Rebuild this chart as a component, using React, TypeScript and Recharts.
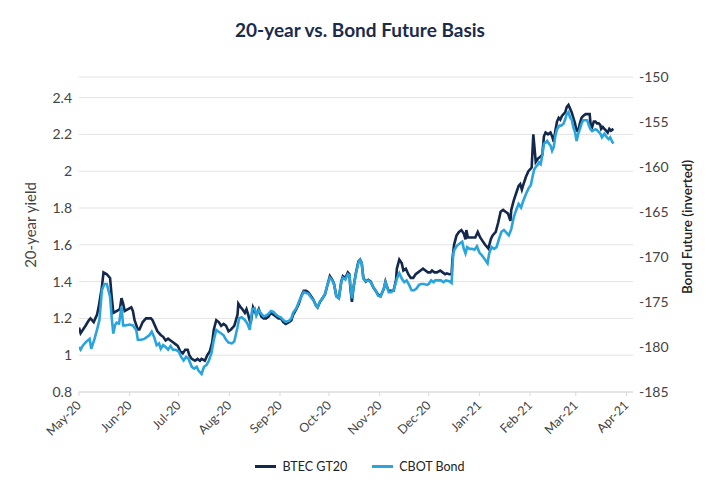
import React from "react";
import { LineChart, Line, XAxis, YAxis, CartesianGrid } from "recharts";

// x = days since 1 May 2020
const monthTicks = [0, 31, 61, 92, 123, 153, 184, 214, 245, 276, 304, 335];
const monthLabels = ["May-20", "Jun-20", "Jul-20", "Aug-20", "Sep-20", "Oct-20", "Nov-20", "Dec-20", "Jan-21", "Feb-21", "Mar-21", "Apr-21"];
const yieldTicks = [0.8, 1, 1.2, 1.4, 1.6, 1.8, 2, 2.2, 2.4];
const basisTicks = [-185, -180, -175, -170, -165, -160, -155, -150];

// BTEC GT20 20-year yield, [day, yield]
const btecPoints: [number, number][] = [
  [0, 1.15], [1, 1.12], [4, 1.16], [6, 1.19], [7, 1.2], [9, 1.18], [10, 1.2], [11, 1.22], [12, 1.26], [14, 1.37],
  [15, 1.45], [17, 1.44], [19, 1.42], [20, 1.32], [21, 1.23], [23, 1.24], [25, 1.25], [26, 1.31], [27, 1.28], [28, 1.24],
  [30, 1.25], [32, 1.26], [33, 1.24], [34, 1.19], [36, 1.14], [37, 1.14], [39, 1.18], [41, 1.2], [44, 1.2], [45, 1.19],
  [47, 1.15], [48, 1.13], [50, 1.11], [51.5, 1.1], [53, 1.08], [54.5, 1.09], [56, 1.08], [57.5, 1.07], [59, 1.06], [60.5, 1.05],
  [62, 1.02], [63.5, 1.01], [65, 1.03], [66.5, 1.03], [67.5, 1.0], [69, 0.98], [71, 0.97], [72.5, 0.98], [74, 0.97], [75, 0.98],
  [77, 0.97], [78.5, 1.0], [80, 1.02], [81.5, 1.07], [82.5, 1.14], [84, 1.19], [85.5, 1.18], [87, 1.16], [88.5, 1.17], [90, 1.16],
  [91.5, 1.13], [93, 1.14], [95, 1.16], [97, 1.22], [97.5, 1.28], [99, 1.26], [100, 1.25], [101.5, 1.23], [102.5, 1.25], [103.5, 1.22],
  [105, 1.17], [106.5, 1.26], [108.5, 1.22], [110, 1.25], [111.5, 1.21], [113, 1.2], [114.5, 1.2], [116, 1.21], [117.5, 1.23], [119, 1.22],
  [120.5, 1.21], [122, 1.2], [123.5, 1.2], [125, 1.18], [126.5, 1.17], [128.5, 1.18], [130, 1.19], [131, 1.22], [133, 1.25], [134.5, 1.28],
  [136, 1.32], [137.5, 1.35], [139, 1.35], [140.5, 1.34], [142, 1.32], [143.5, 1.3], [145, 1.27], [146, 1.26], [147.5, 1.29], [149, 1.31],
  [150.5, 1.33], [152, 1.38], [153.5, 1.43], [155, 1.41], [156, 1.39], [157.5, 1.32], [159, 1.31], [160.5, 1.4], [161.5, 1.43], [163, 1.42],
  [164.5, 1.45], [165.5, 1.44], [166, 1.37], [167, 1.29], [168, 1.37], [169.5, 1.45], [171, 1.51], [172, 1.52], [173, 1.5], [174, 1.42],
  [175.5, 1.4], [177, 1.41], [178.5, 1.4], [180, 1.37], [181.5, 1.35], [183, 1.33], [184.5, 1.32], [186.5, 1.36], [187.5, 1.4], [188.5, 1.37],
  [189.5, 1.35], [191, 1.35], [192.5, 1.35], [194, 1.41], [194.5, 1.47], [196, 1.52], [197.5, 1.5], [198.5, 1.46], [200, 1.47], [201.5, 1.44],
  [203, 1.42], [204.5, 1.42], [206, 1.44], [207.5, 1.45], [209, 1.46], [210.5, 1.47], [212, 1.46], [213.5, 1.45], [215, 1.45], [216, 1.46],
  [217.5, 1.45], [219, 1.45], [221, 1.46], [222.5, 1.45], [224, 1.44], [225, 1.445], [226.5, 1.44], [228, 1.44], [228.5, 1.52], [229.5, 1.6],
  [231, 1.65], [232.5, 1.67], [234, 1.68], [235.5, 1.66], [236.5, 1.63], [237, 1.68], [238, 1.64], [239.5, 1.64], [241, 1.64], [242.5, 1.64],
  [244, 1.67], [245.5, 1.64], [247, 1.62], [248.5, 1.6], [250.5, 1.58], [252, 1.63], [253, 1.65], [255, 1.67], [256.5, 1.72], [258, 1.78],
  [259.5, 1.79], [261, 1.78], [262.5, 1.77], [264, 1.73], [264.5, 1.79], [266, 1.84], [267.5, 1.88], [269, 1.92], [270, 1.93], [271, 1.9],
  [272, 1.93], [273.5, 1.97], [275, 2.0], [277, 2.02], [278, 2.2], [279.5, 2.05], [281, 2.07], [282.5, 2.08], [283.5, 2.09], [284.5, 2.19],
  [285.5, 2.21], [287, 2.2], [288.5, 2.21], [289.5, 2.19], [290.5, 2.16], [291.5, 2.22], [292.5, 2.27], [293.5, 2.29], [294.5, 2.28], [295.5, 2.3],
  [296.5, 2.31], [297.5, 2.32], [298.5, 2.35], [299.5, 2.36], [300.5, 2.34], [301.5, 2.32], [302.5, 2.29], [303.5, 2.26], [304.5, 2.22], [305.5, 2.22],
  [306.5, 2.26], [307.5, 2.29], [308.5, 2.3], [310, 2.31], [311.5, 2.31], [312.5, 2.31], [313, 2.26], [314, 2.24], [315, 2.27], [316, 2.27],
  [317, 2.26], [318, 2.26], [319, 2.25], [319.5, 2.23], [320.5, 2.24], [321.5, 2.23], [322.5, 2.22], [323.5, 2.21], [324.5, 2.23], [325.5, 2.22],
  [327, 2.23],
];

// CBOT bond future, inverted price, [day, value]
const cbotPoints: [number, number][] = [
  [0, -180.0], [1, -180.3], [2.5, -179.8], [4.5, -179.4], [6.5, -179.1], [7.5, -180.2], [9.5, -179.1], [11, -178.1], [12.5, -177.0], [14, -173.7],
  [15.5, -173.0], [17, -173.0], [19, -174.4], [20, -176.7], [21, -178.5], [22, -177.6], [23, -177.3], [24.5, -177.4], [26, -175.5], [27, -177.6],
  [28.5, -177.6], [31, -177.5], [33, -177.6], [35, -178.1], [36, -179.2], [38, -179.2], [40, -179.1], [43, -178.7], [44.5, -178.3], [46, -178.9],
  [47.5, -179.8], [49, -179.6], [50, -180.2], [51.5, -179.8], [53, -180.0], [54.5, -180.3], [56, -179.9], [57.5, -180.3], [59, -180.3], [61, -180.5],
  [62.5, -181.1], [64, -181.5], [65.5, -181.1], [67, -181.3], [69, -182.2], [70.5, -182.4], [72, -182.2], [73, -182.6], [75, -183.0], [76.5, -182.2],
  [78, -182.0], [79.5, -181.5], [81, -180.7], [82.5, -179.2], [84, -178.1], [85.5, -178.3], [87, -178.5], [88.5, -178.7], [90, -179.2], [91.5, -179.5],
  [93.5, -179.6], [95, -179.4], [97, -177.8], [98, -176.8], [99.5, -176.7], [101.5, -177.0], [103, -177.4], [104.5, -178.1], [106, -175.8], [107.5, -175.7],
  [108.5, -176.5], [110, -175.9], [111.5, -176.3], [113, -176.6], [114.5, -176.5], [116, -176.3], [117.5, -176.0], [119, -176.1], [120.5, -176.4], [122, -176.6],
  [123.5, -176.7], [125, -177.0], [126.5, -177.2], [128.5, -177.1], [130, -176.8], [131, -176.2], [133, -175.7], [134.5, -175.0], [136, -174.4], [137.5, -173.9],
  [139, -174.0], [140.5, -174.1], [142, -174.5], [143.5, -174.8], [145, -175.4], [146, -175.6], [147.5, -174.9], [149, -174.6], [150.5, -174.1], [152, -173.1],
  [153.5, -172.3], [155, -172.6], [156, -173.0], [157.5, -174.4], [159, -174.6], [160.5, -172.8], [161.5, -172.3], [163, -172.5], [164.5, -171.9], [165.5, -172.0],
  [166, -173.1], [167, -174.6], [168, -173.3], [169.5, -171.8], [171, -170.6], [172, -170.3], [173, -170.7], [174, -172.4], [175.5, -172.7], [177, -172.6],
  [178.5, -172.8], [180, -173.3], [181.5, -173.7], [183, -174.3], [184.5, -174.4], [186.5, -173.5], [187.5, -172.8], [188.5, -173.3], [189.5, -173.9], [191, -173.9],
  [192.5, -173.7], [194, -172.8], [194.5, -172.4], [196, -171.8], [197.5, -172.4], [199, -172.8], [200.5, -172.6], [202, -173.1], [203.5, -173.7], [205, -173.7],
  [206.5, -173.5], [208, -173.1], [209.5, -173.0], [211, -173.0], [213, -173.1], [214, -173.0], [215.5, -172.6], [217, -172.8], [218, -172.6], [219.5, -172.6],
  [221.5, -172.6], [223, -172.8], [224.5, -172.6], [226.5, -172.7], [228, -172.9], [229, -169.6], [230, -169.1], [231.5, -168.7], [233, -168.5], [234.5, -168.3],
  [235.5, -169.1], [236.5, -169.6], [237.5, -168.9], [239, -169.1], [240.5, -169.1], [242, -169.2], [243.5, -168.8], [245, -169.5], [246.5, -169.8], [248.5, -170.3],
  [250, -170.7], [251, -169.6], [252.5, -168.9], [254, -169.1], [255.5, -168.9], [257, -168.0], [258.5, -167.2], [260, -167.0], [261.5, -167.3], [263, -167.6],
  [264.5, -166.9], [266, -165.6], [267.5, -164.8], [269, -164.1], [270.5, -164.5], [272, -163.7], [273.5, -163.0], [275, -162.4], [276.5, -162.0], [277.5, -161.1],
  [278.5, -160.3], [279.5, -160.0], [280.5, -159.8], [281.5, -159.5], [282.5, -159.7], [283.5, -158.7], [284.5, -157.4], [285.5, -157.3], [286.5, -157.1], [287.5, -157.4],
  [288.5, -157.6], [289.5, -158.2], [290.5, -157.8], [291.5, -156.5], [292.5, -155.8], [294, -155.4], [295, -155.4], [296.5, -155.2], [297.5, -154.7], [298.5, -154.1],
  [299.5, -153.9], [300.5, -154.5], [301.5, -154.7], [302.5, -155.6], [303.5, -156.1], [304.5, -157.1], [305.5, -156.3], [306.5, -155.8], [307.5, -155.2], [308.5, -154.8],
  [310, -154.8], [311, -154.8], [312, -155.4], [313, -155.8], [314, -156.0], [315, -155.9], [316, -155.8], [317, -155.9], [318, -156.1], [319, -156.3],
  [320, -156.7], [321.5, -156.3], [323, -156.7], [324, -156.9], [325, -156.7], [326, -157.1], [327, -157.4],
];

const btecData = btecPoints.map(([day, v]) => ({ day, btec: v }));
const cbotData = cbotPoints.map(([day, v]) => ({ day, cbot: v }));

const NAVY = "#14284b";
const SKY = "#29a4dd";
const FONT = "Lato, 'Open Sans', sans-serif";

const MonthTick = (props: any) => {
  const { x, y, payload } = props;
  const i = monthTicks.indexOf(payload.value);
  const ax = x + 3;
  const ay = y + 8;
  return (
    <text x={ax} y={ay} transform={`rotate(-45 ${ax} ${ay})`} textAnchor="end" fill="#444" fontSize={12.5} fontFamily={FONT}>
      {monthLabels[i]}
    </text>
  );
};

export default function App() {
  return (
    <div style={{ position: "absolute", left: 0, top: 0, width: 720, height: 500, background: "#fff", fontFamily: FONT }}>
      <div style={{ position: "absolute", top: 18, left: 0, width: 720, textAlign: "center", fontSize: 19, fontWeight: 700, color: "#1b2b4b" }}>
        20-year vs. Bond Future Basis
      </div>
      <LineChart width={720} height={500} margin={{ top: 77, right: 0, bottom: 48, left: 0 }}>
        <CartesianGrid vertical={false} stroke="#e3e3e3" yAxisId="left" />
        <XAxis
          type="number"
          dataKey="day"
          domain={[0, 339]}
          ticks={monthTicks}
          allowDataOverflow
          height={60}
          tick={<MonthTick />}
          tickSize={4}
          tickMargin={2}
          stroke="#d9d9d9"
          interval={0}
        />
        <YAxis
          yAxisId="left"
          orientation="left"
          width={79}
          domain={[0.8, 2.512]}
          ticks={yieldTicks}
          allowDataOverflow
          axisLine={false}
          tickLine={false}
          tickSize={0}
          tickMargin={7}
          tickFormatter={(v: number) => String(+v.toFixed(1))}
          tick={{ fill: "#444", fontSize: 14, fontFamily: FONT }}
        />
        <YAxis
          yAxisId="right"
          orientation="right"
          width={87}
          domain={[-185, -150]}
          ticks={basisTicks}
          allowDataOverflow
          axisLine={false}
          tickLine={false}
          tickSize={0}
          tickMargin={6}
          tick={{ fill: "#444", fontSize: 14, fontFamily: FONT, textAnchor: "start" }}
        />
        <Line
          yAxisId="left"
          data={btecData}
          dataKey="btec"
          type="linear"
          stroke={NAVY}
          strokeWidth={2.6}
          dot={false}
          activeDot={false}
          isAnimationActive={false}
        />
        <Line
          yAxisId="right"
          data={cbotData}
          dataKey="cbot"
          type="linear"
          stroke={SKY}
          strokeWidth={2.6}
          dot={false}
          activeDot={false}
          isAnimationActive={false}
        />
      </LineChart>
      <div style={{ position: "absolute", left: 30, top: 225, transform: "translate(-50%, -50%) rotate(-90deg)", whiteSpace: "nowrap", fontSize: 15, color: "#444" }}>
        20-year yield
      </div>
      <div style={{ position: "absolute", left: 687, top: 227, transform: "translate(-50%, -50%) rotate(-90deg)", whiteSpace: "nowrap", fontSize: 13.5, color: "#222", fontWeight: 600 }}>
        Bond Future (inverted)
      </div>
      <div style={{ position: "absolute", top: 459, left: 0, width: 720, display: "flex", justifyContent: "center", alignItems: "center", fontSize: 12.5, color: "#222" }}>
        <span style={{ display: "inline-block", width: 21, height: 3, background: NAVY, marginRight: 6 }} />
        <span style={{ marginRight: 25 }}>BTEC GT20</span>
        <span style={{ display: "inline-block", width: 21, height: 3, background: SKY, marginRight: 6 }} />
        <span>CBOT Bond</span>
      </div>
    </div>
  );
}
